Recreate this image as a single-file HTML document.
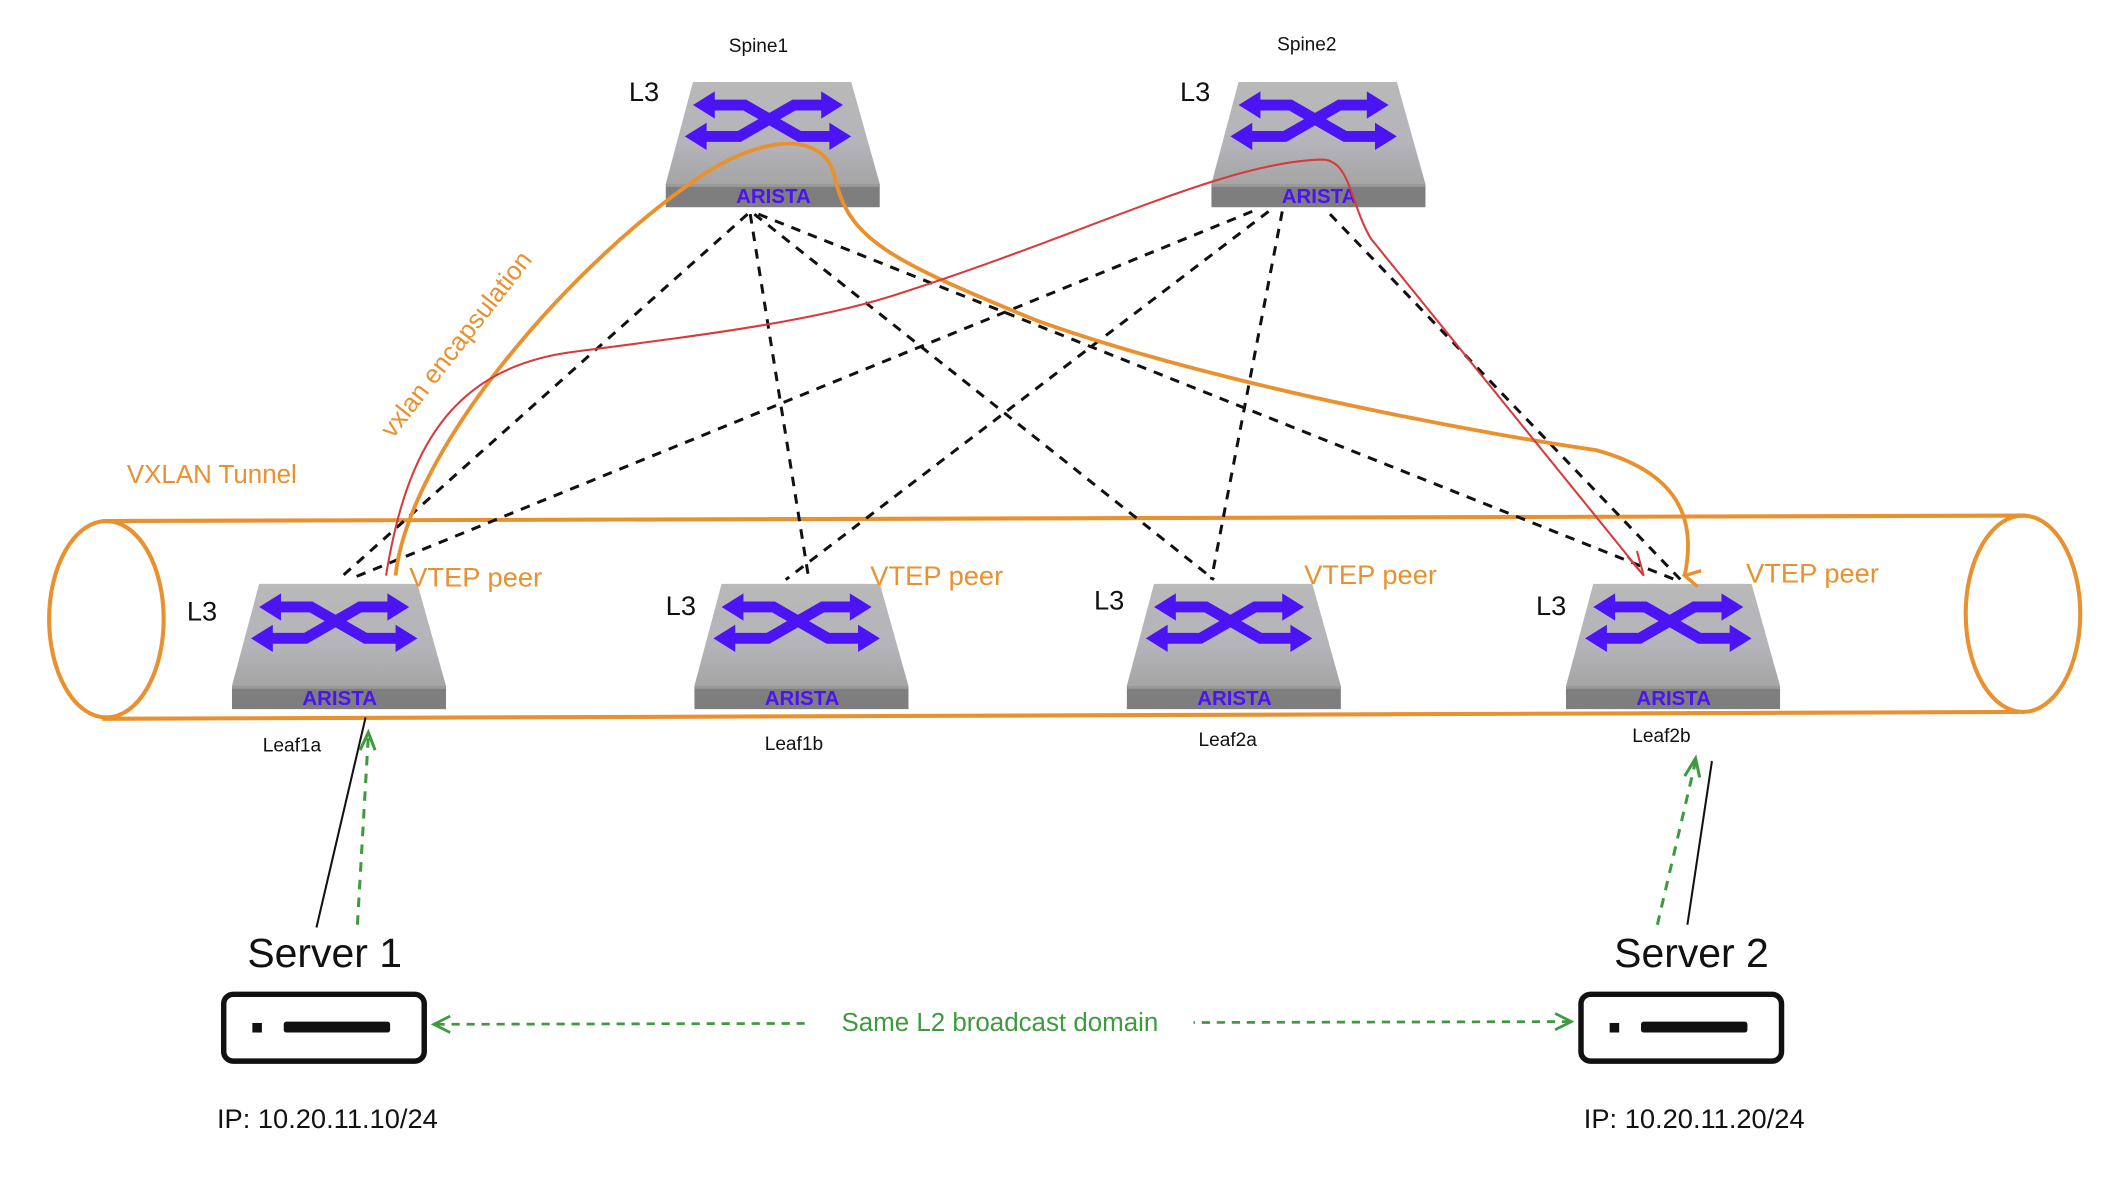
<!DOCTYPE html>
<html><head><meta charset="utf-8"><style>
html,body{margin:0;padding:0;background:#fff;}
svg{display:block;}
text{font-family:"Liberation Sans","DejaVu Sans",sans-serif;}
</style></head><body>
<svg width="2128" height="1188" viewBox="0 0 1560 871" preserveAspectRatio="none" xmlns="http://www.w3.org/2000/svg">
<defs>
<linearGradient id="tg" x1="0" y1="0" x2="0" y2="1"><stop offset="0" stop-color="#b9b9b9"/><stop offset="0.6" stop-color="#b4b4ba"/><stop offset="1" stop-color="#a5a5a5"/></linearGradient>
<symbol id="sw" viewBox="0 0 157 92" width="157" height="92">
<polygon points="20,0 136,0 157,75 0,75" fill="url(#tg)"/>
<rect x="0" y="75" width="157" height="17" fill="#7e7e7e"/>
<rect x="0" y="75" width="157" height="2" fill="#9a9a9a"/>
<g fill="none" stroke="#4a14f4" stroke-width="8" stroke-linejoin="miter">
<polyline points="34,17 58,17 98,40 122,40"/>
<polyline points="28,40 54,40 94,17 116,17"/>
</g>
<g fill="#4a14f4">
<polygon points="20,17 36,7 36,27"/><polygon points="130,17 114,7 114,27"/>
<polygon points="14,40 30,30 30,50"/><polygon points="136,40 120,30 120,50"/>
</g>
</symbol>
<marker id="ao" markerWidth="14" markerHeight="14" refX="7" refY="12" orient="auto" markerUnits="userSpaceOnUse"><path d="M1,1 L7,12 L13,1" fill="none" stroke="#e8912e" stroke-width="2.5"/></marker>
</defs>

<!-- tube -->
<g fill="none" stroke="#e8912e" stroke-width="3">
<path d="M75,382 L1485,378"/>
<path d="M75,527 L1480,522"/>
<ellipse cx="78" cy="454" rx="42" ry="72"/>
<ellipse cx="1483" cy="450" rx="42" ry="72"/>
</g>
<text x="93" y="354" font-size="19" fill="#e8912e">VXLAN Tunnel</text>
<text x="0" y="0" font-size="19" fill="#e8912e" transform="translate(288,322) rotate(-52)">vxlan encapsulation</text>

<!-- dashed links -->
<g stroke="#111" stroke-width="2.2" stroke-dasharray="7,6" fill="none">
<path d="M548,157 L248,425"/>
<path d="M550,157 L593,425"/>
<path d="M553,157 L890,425"/>
<path d="M556,157 L1228,425"/>
<path d="M918,155 L258,424"/>
<path d="M930,155 L576,425"/>
<path d="M940,155 L888,425"/>
<path d="M975,157 L1232,425"/>
</g>

<!-- switches -->
<use href="#sw" x="488" y="60"/>
<use href="#sw" x="888" y="60"/>
<use href="#sw" x="170" y="428"/>
<use href="#sw" x="509" y="428"/>
<use href="#sw" x="826" y="428"/>
<use href="#sw" x="1148" y="428"/>
<g font-size="15" font-weight="bold" fill="#4a14f4" text-anchor="middle">
<text x="567" y="149">ARISTA</text><text x="967" y="149">ARISTA</text>
<text x="249" y="517">ARISTA</text><text x="588" y="517">ARISTA</text>
<text x="905" y="517">ARISTA</text><text x="1227" y="517">ARISTA</text>
</g>

<!-- orange curve -->
<path d="M290,422 C300,330 420,190 520,125 C565,98 605,98 612,130 C622,175 650,190 760,235 C900,285 1100,320 1170,330 C1225,345 1245,375 1235,422" fill="none" stroke="#e8912e" stroke-width="2.8" marker-end="url(#ao)"/>
<!-- red curve -->
<path d="M283,422 C298,330 330,270 420,258 C520,245 600,235 660,215 C800,170 900,118 970,117 C990,118 990,150 1005,175 L1205,422" fill="none" stroke="#d63a3a" stroke-width="1.5"/>
<path d="M1193,408 L1205,422 L1200,404" fill="none" stroke="#d63a3a" stroke-width="1.5"/>

<!-- labels -->
<g font-size="14" fill="#111" text-anchor="middle">
<text x="556" y="38">Spine1</text><text x="958" y="37">Spine2</text>
<text x="214" y="551">Leaf1a</text><text x="582" y="550">Leaf1b</text>
<text x="900" y="547">Leaf2a</text><text x="1218" y="544">Leaf2b</text>
</g>
<g font-size="20" fill="#111">
<text x="461" y="74">L3</text><text x="865" y="74">L3</text>
<text x="137" y="455">L3</text><text x="488" y="451">L3</text>
<text x="802" y="447">L3</text><text x="1126" y="451">L3</text>
</g>
<g font-size="20" fill="#e8912e">
<text x="300" y="430">VTEP peer</text><text x="638" y="429">VTEP peer</text>
<text x="956" y="428">VTEP peer</text><text x="1280" y="427">VTEP peer</text>
</g>

<!-- server links -->
<path d="M268,526 L232,680" stroke="#111" stroke-width="1.5"/>
<path d="M262,678 L270,540" stroke="#3d9a3d" stroke-width="2.2" stroke-dasharray="7,6"/>
<path d="M264,550 L270,537 L275,550" fill="none" stroke="#3d9a3d" stroke-width="2.2"/>
<path d="M1255,558 L1237,678" stroke="#111" stroke-width="1.5"/>
<path d="M1215,678 L1243,558" stroke="#3d9a3d" stroke-width="2.2" stroke-dasharray="7,6"/>
<path d="M1235,569 L1243,556 L1246,570" fill="none" stroke="#3d9a3d" stroke-width="2.2"/>

<!-- servers -->
<text x="238" y="709" font-size="30" fill="#111" text-anchor="middle">Server 1</text>
<text x="1240" y="709" font-size="30" fill="#111" text-anchor="middle">Server 2</text>
<rect x="164" y="729" width="147" height="49" rx="7" fill="#fff" stroke="#111" stroke-width="4"/>
<rect x="185" y="750" width="7" height="7" fill="#111"/>
<rect x="208" y="749" width="78" height="8" rx="2" fill="#111"/>
<rect x="1159" y="729" width="147" height="49" rx="7" fill="#fff" stroke="#111" stroke-width="4"/>
<rect x="1180" y="750" width="7" height="7" fill="#111"/>
<rect x="1203" y="749" width="78" height="8" rx="2" fill="#111"/>

<path d="M320,751 L1150,749" stroke="#3d9a3d" stroke-width="2" stroke-dasharray="6,5"/>
<path d="M330,745 L318,751 L330,757" fill="none" stroke="#3d9a3d" stroke-width="2"/>
<path d="M1140,743 L1152,749 L1140,755" fill="none" stroke="#3d9a3d" stroke-width="2"/>
<rect x="590" y="737" width="285" height="24" fill="#fff"/>
<text x="733" y="756" font-size="19" fill="#3d9a3d" text-anchor="middle">Same L2 broadcast domain</text>

<g font-size="20" fill="#111" text-anchor="middle">
<text x="240" y="827">IP: 10.20.11.10/24</text>
<text x="1242" y="827">IP: 10.20.11.20/24</text>
</g>
</svg>
</body></html>
